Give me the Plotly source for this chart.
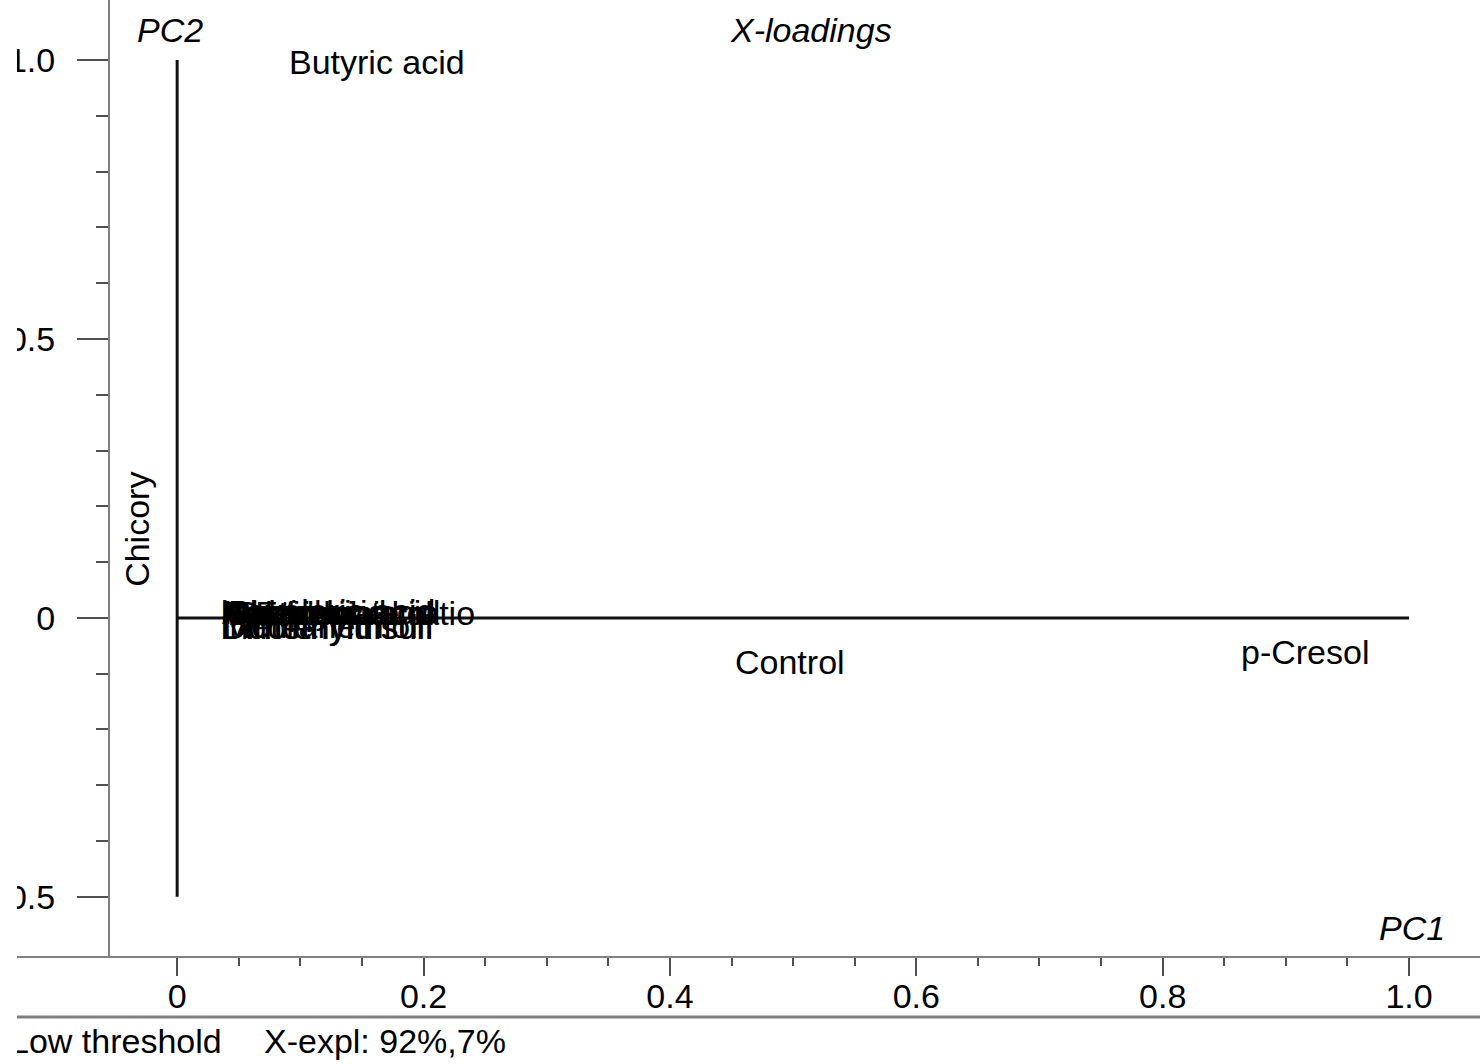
import plotly.graph_objects as go

# ---- loadings data (PC1, PC2) ----
var_names = [
    "Butyric acid", "p-Cresol", "Control",
    "Acetic acid", "Propionic acid", "Isobutyric acid", "Valeric acid",
    "Isovaleric acid", "Phenol", "4-Ethylphenol", "Skatole", "Ammonia",
    "Propionate ratio",
    "Indole", "Dimethyltrisulf", "Methanethiol", "Dimethyldisulf",
]
pc1_pos = [
    0.089, 0.862, 0.451,
    0.035, 0.034, 0.036, 0.038,
    0.033, 0.040, 0.037, 0.039, 0.041,
    0.045,
    0.033, 0.034, 0.036, 0.035,
]
pc2_pos = [
    0.996, -0.061, -0.079,
    0.010, 0.008, 0.011, 0.009,
    0.012, 0.010, 0.008, 0.011, 0.009,
    0.009,
    -0.016, -0.017, -0.015, -0.016,
]

# rotated label drawn beside the PC2 line
rot_name = "Chicory"
rot_pc1 = -0.0325
rot_pc2 = 0.158

# loading lines along each component
pc2_line_x = [0.0, 0.0]
pc2_line_y = [-0.5, 1.0]
pc1_line_x = [0.0, 1.0]
pc1_line_y = [0.0, 0.0]

# axis ticks
x_ticks = [0.0, 0.2, 0.4, 0.6, 0.8, 1.0]
x_ticktext = ["0", "0.2", "0.4", "0.6", "0.8", "1.0"]
x_minor = [0.05, 0.1, 0.15, 0.25, 0.3, 0.35, 0.45, 0.5, 0.55, 0.65, 0.7, 0.75,
           0.85, 0.9, 0.95]
y_ticks = [-0.5, 0.0, 0.5, 1.0]
y_ticktext = ["-0.5", "0", "0.5", "1.0"]
y_minor = [-0.4, -0.3, -0.2, -0.1, 0.1, 0.2, 0.3, 0.4, 0.6, 0.7, 0.8, 0.9]

# status line under the plot
status_left = "Low threshold"
status_right = "X-expl: 92%,7%"

x_range = [-0.13, 1.0576]
y_range = [-0.606, 1.1075]

FONT = "Liberation Sans, Arial, Helvetica, sans-serif"
FS = 34
AXIS_GREY = "#808080"
TICK_GREY = "#505050"
PLOT_H = 956.0

fig = go.Figure()

fig.add_trace(go.Scatter(x=pc2_line_x, y=pc2_line_y, mode="lines",
                         line=dict(color="#111111", width=3),
                         hoverinfo="skip", showlegend=False))
fig.add_trace(go.Scatter(x=pc1_line_x, y=pc1_line_y, mode="lines",
                         line=dict(color="#111111", width=3),
                         hoverinfo="skip", showlegend=False))

# variable labels
for name, px_, py_ in zip(var_names, pc1_pos, pc2_pos):
    fig.add_annotation(x=px_, y=py_, xref="x", yref="y", text=name,
                       showarrow=False, xanchor="left", yanchor="middle",
                       font=dict(family=FONT, size=FS, color="#000000"))

fig.add_annotation(x=rot_pc1, y=rot_pc2, xref="x", yref="y", text=rot_name,
                   textangle=-90, showarrow=False, xanchor="center",
                   yanchor="middle",
                   font=dict(family=FONT, size=FS, color="#000000"))

# component names and plot title
fig.add_annotation(x=-0.034, y=1.0537, xref="x", yref="y", text="<i>PC2</i>",
                   showarrow=False, xanchor="left", yanchor="middle",
                   font=dict(family=FONT, size=FS, color="#000000"))
fig.add_annotation(x=0.4472, y=1.0537, xref="x", yref="y",
                   text="<i>X-loadings</i>", showarrow=False,
                   xanchor="left", yanchor="middle",
                   font=dict(family=FONT, size=FS, color="#000000"))
fig.add_annotation(x=1.0308, y=-0.5558, xref="x", yref="y", text="<i>PC1</i>",
                   showarrow=False, xanchor="right", yanchor="middle",
                   font=dict(family=FONT, size=FS, color="#000000"))

# status line texts
fig.add_annotation(x=-9 / 1463, y=(PLOT_H - 1041) / PLOT_H, xref="paper",
                   yref="paper", text=status_left, showarrow=False,
                   xanchor="left", yanchor="middle",
                   font=dict(family=FONT, size=FS, color="#000000"))
fig.add_annotation(x=245 / 1463, y=(PLOT_H - 1041) / PLOT_H, xref="paper",
                   yref="paper", text=status_right, showarrow=False,
                   xanchor="left", yanchor="middle",
                   font=dict(family=FONT, size=FS, color="#000000"))
# white strip along the left edge of the panel
fig.add_annotation(x=0, y=(PLOT_H - 532) / PLOT_H, xref="paper", yref="paper",
                   text=" ", showarrow=False, xanchor="right",
                   yanchor="middle", width=17, height=1064,
                   bgcolor="white", borderpad=0, borderwidth=0)

# separator line below the PC1 axis
fig.add_shape(type="line", xref="paper", yref="paper",
              x0=0, x1=1, y0=-61 / PLOT_H, y1=-61 / PLOT_H,
              line=dict(color=AXIS_GREY, width=3), layer="above")

fig.update_layout(
    width=1484, height=1064,
    margin=dict(l=17, r=4, t=0, b=108, pad=0, autoexpand=False),
    paper_bgcolor="white", plot_bgcolor="white",
    showlegend=False,
    font=dict(family=FONT, size=FS, color="#000000"),
    xaxis=dict(
        range=x_range, showgrid=False, zeroline=False, automargin=False,
        showline=True, linecolor=AXIS_GREY, linewidth=2,
        ticks="outside", ticklen=18, tickwidth=2, tickcolor=TICK_GREY,
        tickmode="array", tickvals=x_ticks, ticktext=x_ticktext,
        ticklabelstandoff=-9,
        tickfont=dict(family=FONT, size=FS, color="#000000"),
        minor=dict(tickmode="array", tickvals=x_minor, ticks="outside",
                   ticklen=8, tickwidth=2, tickcolor=TICK_GREY, showgrid=False),
    ),
    yaxis=dict(
        range=y_range, showgrid=False, zeroline=False, automargin=False,
        anchor="free", position=92 / 1463,
        showline=True, linecolor=AXIS_GREY, linewidth=2,
        ticks="outside", ticklen=31, tickwidth=2, tickcolor=TICK_GREY,
        tickmode="array", tickvals=y_ticks, ticktext=y_ticktext,
        ticklabelstandoff=15,
        tickfont=dict(family=FONT, size=FS, color="#000000"),
        minor=dict(tickmode="array", tickvals=y_minor, ticks="outside",
                   ticklen=12, tickwidth=2, tickcolor=TICK_GREY, showgrid=False),
    ),
)

fig.write_html("out.html")
